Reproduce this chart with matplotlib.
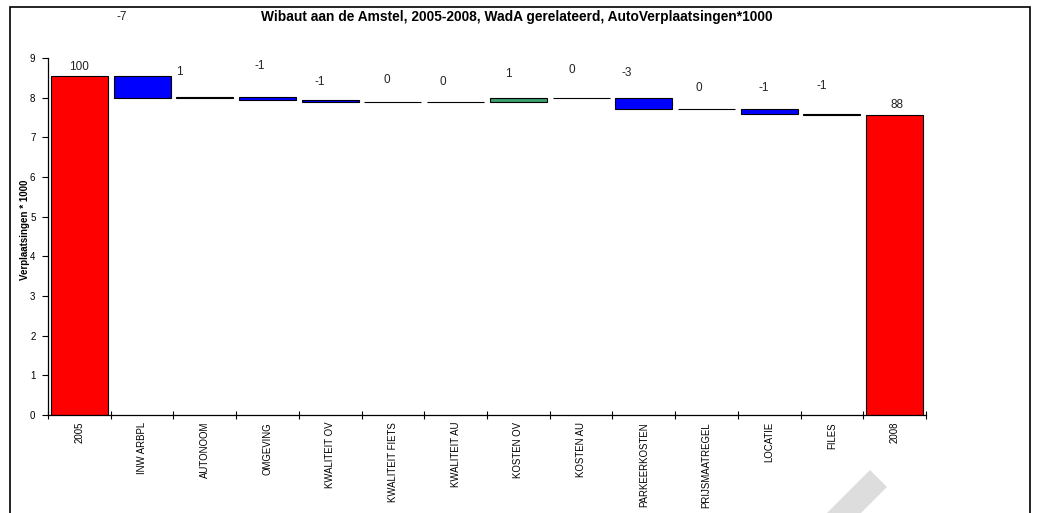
import numpy as np
import matplotlib.pyplot as plt
from matplotlib.patches import Rectangle, Polygon

plt.rcParams['font.family'] = ['Liberation Sans', 'DejaVu Sans']

# --- DATA ---
categories = ['2005', 'INW ARBPL', 'AUTONOOM', 'OMGEVING', 'KWALITEIT OV',
              'KWALITEIT FIETS', 'KWALITEIT AU', 'KOSTEN OV', 'KOSTEN AU',
              'PARKEERKOSTEN', 'PRIJSMAATREGEL', 'LOCATIE', 'FILES', '2008']
# running level (x1000) before and after each step
start_level = [0.00, 8.54, 7.99, 8.01, 7.94, 7.89, 7.89, 7.88, 7.99, 7.98, 7.71, 7.72, 7.58, 0.00]
end_level   = [8.54, 7.99, 8.01, 7.94, 7.89, 7.89, 7.88, 7.99, 7.98, 7.71, 7.72, 7.58, 7.57, 7.56]
value_labels = ['100', '-7', '1', '-1', '-1', '0', '0', '1', '0', '-3', '0', '-1', '-1', '88']

# label placement (offset from category centre, absolute height in data units)
label_dx = [0.0, -0.32, -0.4, -0.12, -0.16, -0.1, -0.2, -0.16, -0.14, -0.27, -0.13, -0.08, -0.16, 0.04]
label_y  = [8.78, 10.03, 8.64, 8.79, 8.39, 8.44, 8.39, 8.59, 8.69, 8.61, 8.24, 8.24, 8.29, 7.82]

RED, BLUE, GREEN = '#FF0000', '#0000FF', '#3CA06C'

def bar_color(i):
    if i == 0 or i == len(categories) - 1:
        return RED
    return GREEN if end_level[i] > start_level[i] else BLUE

fig = plt.figure(figsize=(10.43, 5.13), dpi=100)
ax = fig.add_axes([48 / 1043, 1 - 415 / 513, (926 - 48) / 1043, (415 - 58) / 513])

x = np.arange(len(categories))
bottoms = np.minimum(start_level, end_level)
heights = np.abs(np.array(end_level) - np.array(start_level))
heights = np.maximum(heights, 0.004)
ax.bar(x, heights, bottom=bottoms, width=0.91,
       color=[bar_color(i) for i in range(len(categories))],
       edgecolor='black', linewidth=0.8)

for i, lab in enumerate(value_labels):
    ax.text(i + label_dx[i], label_y[i], lab, ha='center', va='center',
            fontsize=8.5, color='#222222', clip_on=False)

ax.set_xlim(-0.5, len(categories) - 0.5)
ax.set_ylim(0, 9)
ax.set_yticks(range(0, 10))
ax.tick_params(axis='y', labelsize=7, length=4, width=0.8, pad=5)

ax.set_xticks(x)
ax.set_xticklabels(categories, rotation=90, fontsize=6.9)
ax.tick_params(axis='x', which='major', length=0, pad=5)
ax.set_xticks(np.arange(-0.5, len(categories)), minor=True)
ax.tick_params(axis='x', which='minor', length=6, width=0.8, direction='inout')

for side in ['top', 'right']:
    ax.spines[side].set_visible(False)
ax.spines['left'].set_linewidth(0.9)
ax.spines['bottom'].set_linewidth(0.9)

ax.set_ylabel('Verplaatsingen * 1000', fontsize=7, fontweight='bold')
ax.yaxis.set_label_coords(-0.021, 0.52)

fig.text(517 / 1043, 1 - 17 / 513,
         'Wibaut aan de Amstel, 2005-2008, WadA gerelateerd, AutoVerplaatsingen*1000',
         ha='center', va='center', fontsize=9.9, fontweight='bold')

# outer chart border
fig.add_artist(Rectangle((10 / 1043, -0.05), (1030 - 10) / 1043, 1 - 7 / 513 + 0.05,
                         transform=fig.transFigure, fill=False, edgecolor='black', linewidth=1.2))

# faint watermark band in lower right
wm = [(870, 470), (887, 487), (861, 513), (827, 513)]
fig.add_artist(Polygon([(px / 1043, 1 - py / 513) for px, py in wm], closed=True,
                       transform=fig.transFigure, facecolor='#DDDDDD', edgecolor='none', zorder=-1))

fig.savefig('out.png', dpi=100)
